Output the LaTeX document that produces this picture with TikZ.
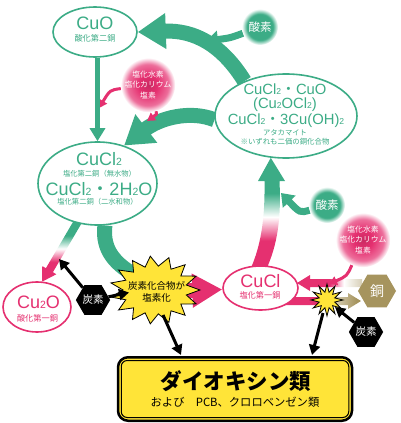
\documentclass[tikz,border=0pt]{standalone}
\usepackage{fontspec}
\setmainfont{Liberation Sans}
\newfontfamily\jp{Noto Sans CJK JP}
\usepackage{graphicx}
\usetikzlibrary{arrows.meta}
\usetikzlibrary{shapes.geometric}

\definecolor{cgreen}{RGB}{60,172,134}
\definecolor{cpink}{RGB}{229,48,112}
\definecolor{cgold}{RGB}{166,148,94}
\definecolor{cyellow}{RGB}{255,228,56}
\colorlet{cgoldL}{cgold!45!white}
\colorlet{cpinkD}{cpink!88!black}
\colorlet{cpinkL}{cpink!70!white}

\pgfdeclareradialshading{glowG}{\pgfpoint{0bp}{0bp}}{color(0bp)=(cgreen); color(18bp)=(cgreen); color(25bp)=(white); color(50bp)=(white)}
\pgfdeclareradialshading{glowP}{\pgfpoint{0bp}{0bp}}{color(0bp)=(cpinkD); color(9bp)=(cpink); color(19bp)=(cpinkL); color(25bp)=(white); color(50bp)=(white)}
\pgfdeclareverticalshading{fadeGP}{100bp}{color(0bp)=(cpink); color(40bp)=(cpink); color(50bp)=(white); color(60bp)=(cgreen); color(100bp)=(cgreen)}
\pgfdeclarehorizontalshading{fadePYa}{100bp}{color(0bp)=(cpink); color(50bp)=(cpink); color(61bp)=(white); color(75bp)=(cgoldL); color(100bp)=(cgoldL)}
\pgfdeclarehorizontalshading{fadePYb}{100bp}{color(0bp)=(cpink); color(47bp)=(cpink); color(58bp)=(cgoldL); color(72bp)=(cgold); color(100bp)=(cgold)}

\pgfdeclarelayer{back}
\pgfsetlayers{back,main}

\newcommand\subn[1]{\scalebox{0.58}{#1}}
\newcommand\fsz[2]{\fontsize{#1}{#2}\selectfont}

\tikzset{
  ell/.style={ellipse, draw=#1, fill=white, line width=1.6pt, inner sep=0pt},
  chem/.style={text=#1, font=\fsz{18}{18}, anchor=base, inner sep=0pt},
  chemS/.style={text=#1, font=\fsz{14.8}{15}, anchor=base, inner sep=0pt},
  note/.style={text=#1, font=\jp\fsz{7.6}{8}, anchor=base, inner sep=0pt},
  glowg/.style={circle, shade, shading=glowG, minimum size=36pt, inner sep=0pt, text=white, font=\jp\fsz{11.5}{12}},
  glowp/.style={circle, shade, shading=glowP, minimum size=54pt, inner sep=0pt, text=white, align=center, font=\jp\fsz{7.8}{10.5}},
  hexa/.style={regular polygon, regular polygon sides=6, fill=#1, inner sep=0pt, text=white},
  burst/.style={fill=cyellow, draw=black, line width=0.8pt, line join=miter},
  bigg/.style={draw=cgreen, line width=15pt, -{Triangle[length=28pt,width=34pt]}},
  bigp/.style={draw=cpink, line width=15pt, -{Triangle[length=30pt,width=32pt]}},
  grnthin/.style={draw=cgreen, line width=4.5pt, -{Triangle[length=13pt,width=15pt]}},
  o2arrow/.style={draw=cgreen, line width=7pt, -{Triangle[length=12pt,width=17pt]}},
  pkarrow/.style={draw=cpink, line width=3pt, -{Triangle[length=8pt,width=9pt]}},
  blk/.style={draw=black, line width=3pt, -{Triangle[length=10pt,width=11pt]}},
}

\begin{document}
\begin{tikzpicture}[x=1pt, y=-1pt]
\useasboundingbox (0,0) rectangle (400,423);

% Ellipses
\node[ell=cgreen, minimum width=84pt, minimum height=50pt] (cuo) at (95,32) {};
\node[ell=cgreen, minimum width=119pt, minimum height=83pt] (cucl2) at (97.5,183.5) {};
\node[ell=cgreen, minimum width=142pt, minimum height=84pt] (atac) at (286,116) {};
\node[ell=cpink, minimum width=75pt, minimum height=44pt] (cucl) at (260.5,288) {};
\node[ell=cpink, minimum width=68pt, minimum height=50pt] (cu2o) at (37,307) {};

% Labels in the ellipses
\node[chem=cgreen] (cuoF) at (95,29.5) {CuO};
\node[note=cgreen, font=\jp\fsz{8.2}{9}] (cuoN) at (95,41.2) {酸化第二銅};

\node[chem=cgreen] (cucl2F) at (99,165) {CuCl\subn{2}};
\node[note=cgreen, font=\jp\fsz{7.3}{8}] (cucl2N) at (99.5,176.3) {塩化第二銅（無水物）};
\node[chem=cgreen] (cucl2H) at (99,195) {CuCl\subn{2}{\jp ・}2H\subn{2}O};
\node[note=cgreen, font=\jp\fsz{7.3}{8}] (cucl2M) at (97.5,204.8) {塩化第二銅（二水和物）};

\node[chemS=cgreen] (atacA) at (285,94.8) {CuCl\subn{2}{\jp ・}CuO};
\node[chemS=cgreen] (atacB) at (285,108.6) {(Cu\subn{2}OCl\subn{2})};
\node[chemS=cgreen] (atacC) at (286,124.2) {CuCl\subn{2}{\jp ・}3Cu(OH)\subn{2}};
\node[note=cgreen, font=\jp\fsz{7.3}{8}] (atacD) at (285,135) {アタカマイト};
\node[note=cgreen, font=\jp\fsz{7.4}{8}] (atacE) at (285,144.4) {※いずれも二価の銅化合物};

\node[chem=cpink] (cuclF) at (260.5,287.5) {CuCl};
\node[note=cpink, font=\jp\fsz{8.2}{9}] (cuclN) at (260,298.7) {塩化第一銅};

\node[chem=cpink] (cu2oF) at (38.5,308) {Cu\subn{2}O};
\node[note=cpink, font=\jp\fsz{8.2}{9}] (cu2oN) at (37.5,321) {酸化第一銅};

% Glowing reagents
\node[glowg] (o2a) at (260,27) {酸素};
\node[glowg] (o2b) at (327,205) {酸素};
\node[glowp] (clA) at (148,85) {塩化水素\\塩化カリウム\\塩素};
\node[glowp] (clB) at (363,240) {塩化水素\\塩化カリウム\\塩素};

% Bursts
\filldraw[burst, shift={(155,290)}] (0:45 and 34)
  \foreach \k [evaluate=\k as \rx using 45-13*(\k-2*floor(\k/2)),
               evaluate=\k as \ry using 34-10*(\k-2*floor(\k/2))] in {1,...,29}
  { -- ({\k*12}:{\rx} and {\ry}) } -- cycle;
\node[font=\jp\fsz{9.5}{12}, align=center, inner sep=1pt] (burstT) at (156.5,292) {炭素化合物が\\塩素化};

\filldraw[burst, shift={(327,300)}] (0:16)
  \foreach \k [evaluate=\k as \rr using 16-8*(\k-2*floor(\k/2))] in {1,...,23}
  { -- ({\k*15}:{\rr}) } -- cycle;

% Hexagons
\node[hexa=black, minimum size=33pt, font=\jp\fsz{10.5}{11}] (cL) at (93,300) {炭素};
\node[hexa=black, minimum size=33pt, font=\jp\fsz{10.5}{11}] (cR) at (366,332) {炭素};
\node[hexa=cgold, minimum size=38pt, font=\jp\fsz{14}{14}] (cu) at (377,291) {銅};

% Result box
\node[draw=black, fill=cyellow, line width=2.5pt, rounded corners=10pt,
      minimum width=234pt, minimum height=63.5pt] (diox) at (235,389) {};
\draw[line width=1pt, rounded corners=6pt] ([shift={(4.5pt,4.5pt)}]diox.south west)
  rectangle ([shift={(-4.5pt,-4.5pt)}]diox.north east);
\node[font=\jp\bfseries\fsz{21.5}{22}, anchor=base] (dioxT) at (236,389) {ダイオキシン類};
\node[font=\jp\fsz{11.3}{12}, anchor=base] (dioxS) at (235,406) {および　PCB、クロロベンゼン類};

% Coordinates for free ends
\coordinate (s1) at (206,41);
\coordinate (s2) at (281,193);
\coordinate (pa) at (99,108);
\coordinate (pb) at (147,121);
\coordinate (pc) at (329,284);
\coordinate (tipA) at (atac.250);
\coordinate (tipB) at (cu2o.78);
\coordinate (tipU) at (297,283);
\coordinate (tipD) at (361,301);
\coordinate (k1) at (59,259);
\coordinate (k2) at (129,292.5);
\coordinate (k3) at (163,315);
\coordinate (k4) at (181,355);
\coordinate (k5) at (335,307);
\coordinate (k6) at (323,313);
\coordinate (k7) at (312,355);

\begin{pgfonlayer}{back}
  % Cycle arrows
  \draw[bigg] (atac.140) .. controls (222,45) and (195,30) .. (cuo.east);
  \draw[bigg] (atac.183) .. controls (190,110) and (160,118) .. (cucl2.55);
  \draw[cgreen, line width=15pt] (cucl2.280) .. controls (102,250) and (115,265) .. (140,278);
  \draw[bigp] (burstT) -- (cucl);

  \shade[shading=fadeGP] (tipA) -- (285,181) -- (279.5,181)
    .. controls (281,215) and (279,245) .. (263,276) -- (247,276)
    .. controls (262,248) and (265,215) .. (264.5,181) -- (258,181) -- cycle;
  \shade[shading=fadeGP] (tipB) -- (56.3,274.3) -- (52.9,272.2) -- (83.5,220)
    -- (76.5,216) -- (45.9,268.2) -- (42.5,266.2) -- cycle;

  \shade[shading=fadePYa] (tipU) -- ++(13,-8) -- ++(0,4) -- ++(52,0) -- ++(0,8)
    -- ++(-52,0) -- ++(0,4) -- cycle;
  \shade[shading=fadePYb] (tipD) -- ++(-13,-8) -- ++(0,4) -- ++(-64,0) -- ++(0,8)
    -- ++(64,0) -- ++(0,4) -- cycle;

  % Reagent arrows
  \draw[o2arrow] (o2a) .. controls (230,38) .. (s1);
  \draw[o2arrow] (o2b) .. controls (300,213) .. (s2);
  \draw[pkarrow] (clA) .. controls (110,90) .. (pa);
  \draw[pkarrow] (clA) .. controls (157,114) .. (pb);
  \draw[pkarrow] (clB) .. controls (347,276) .. (pc);
\end{pgfonlayer}

\draw[grnthin] (cuo.south -| cucl2.north) -- (cucl2.north);

% Carbon arrows
\draw[blk] (cL) -- (k1);
\draw[blk] (cL) -- (k2);
\draw[blk] (k3) -- (k4);
\draw[blk] (cR) -- (k5);
\draw[blk] (k6) -- (k7);

\end{tikzpicture}
\end{document}
